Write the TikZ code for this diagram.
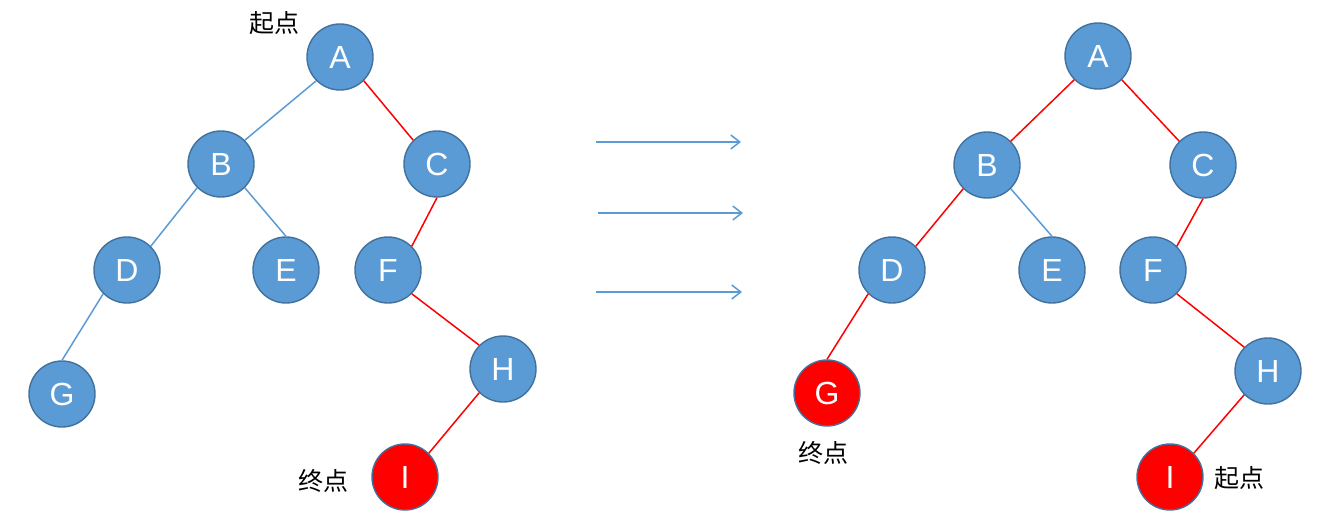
\documentclass[tikz,border=0pt]{standalone}
\usepackage{fontspec}
\setmainfont{Liberation Sans}
\newfontfamily\cjk{Noto Sans CJK SC}
\usetikzlibrary{arrows.meta}
\definecolor{nodeblue}{HTML}{5B9BD5}
\definecolor{nodeline}{HTML}{41719C}
\definecolor{pathred}{HTML}{FF0000}
\tikzset{
	vertex/.style={circle, minimum size=66pt, inner sep=0pt, fill=nodeblue, draw=nodeline, line width=1.4pt, text=white, font=\fontsize{32}{32}\selectfont},
	endvertex/.style={vertex, fill=pathred},
	treeedge/.style={nodeblue, line width=1.5pt},
	pathedge/.style={pathred, line width=1.5pt},
	mark label/.style={font=\cjk\fontsize{25}{25}\selectfont, text=black, inner sep=0pt},
	step arrow/.style={nodeblue, line width=1.5pt, -{Straight Barb[length=9pt,width=14pt]}}
}
\begin{document}
\begin{tikzpicture}[x=1pt,y=-1pt]
\useasboundingbox (0,0) rectangle (1336,532);
%left tree
\node[vertex] (lA) at (340,57) {A};
\node[vertex] (lB) at (221,164) {B};
\node[vertex] (lC) at (437,164) {C};
\node[vertex] (lD) at (127,270) {D};
\node[vertex] (lE) at (286,270) {E};
\node[vertex] (lF) at (388,270) {F};
\node[vertex] (lG) at (62,394) {G};
\node[vertex] (lH) at (503,369) {H};
\node[endvertex] (lI) at (405,477) {I};
\foreach \a/\b in {lA.south west/lB.north east,lB.south west/lD.north east,
	lB.south east/lE.north,lD.south west/lG.north}{
	\draw[treeedge] (\a) -- (\b);
}
\foreach \a/\b in {lA.south east/lC.north west,lC.south/lF.north east,
	lF.south east/lH.north west,lH.south west/lI.north east}{
	\draw[pathedge] (\a) -- (\b);
}
\node[mark label] (lstart) at (274,23) {起点};
\node[mark label] (lend) at (323,481) {终点};
%arrows
\coordinate (a1) at (596,142);
\coordinate (b1) at (741,142);
\coordinate (a2) at (598,213);
\coordinate (b2) at (743,213);
\coordinate (a3) at (596,292);
\coordinate (b3) at (742,292);
\foreach \i in {1,2,3}{
	\draw[step arrow] (a\i) -- (b\i);
}
%right tree
\node[vertex] (rA) at (1098,56) {A};
\node[vertex] (rB) at (987,165) {B};
\node[vertex] (rC) at (1203,165) {C};
\node[vertex] (rD) at (892,270) {D};
\node[vertex] (rE) at (1052,270) {E};
\node[vertex] (rF) at (1153,270) {F};
\node[endvertex] (rG) at (827,393) {G};
\node[vertex] (rH) at (1268,371) {H};
\node[endvertex] (rI) at (1170,477) {I};
\draw[treeedge] (rB.south east) -- (rE.north);
\foreach \a/\b in {rA.south west/rB.north east,rB.south west/rD.north east,
	rD.south west/rG.north,rA.south east/rC.north west,rC.south/rF.north east,
	rF.south east/rH.north west,rH.south west/rI.north east}{
	\draw[pathedge] (\a) -- (\b);
}
\node[mark label] (rend) at (823,453) {终点};
\node[mark label] (rstart) at (1239,478) {起点};
\end{tikzpicture}
\end{document}
